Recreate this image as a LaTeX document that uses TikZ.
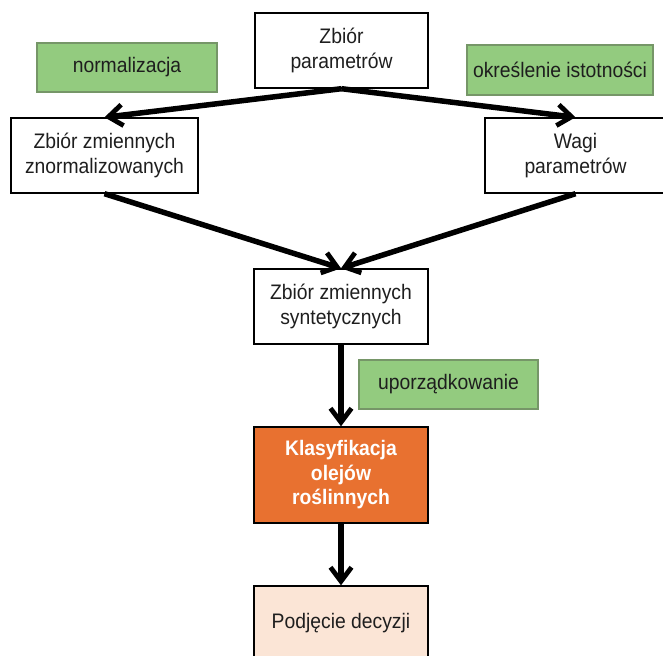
\documentclass[tikz,border=0pt]{standalone}
\usepackage{fontspec}
\setmainfont[FakeStretch=0.92]{Liberation Sans}
\usetikzlibrary{arrows.meta}
\definecolor{greenfill}{RGB}{147,203,127}
\definecolor{greenedge}{RGB}{118,150,104}
\definecolor{orangefill}{RGB}{232,113,48}
\definecolor{peach}{RGB}{251,229,214}
\definecolor{txt}{RGB}{30,30,30}
\begin{document}
\begin{tikzpicture}[x=1pt,y=-1pt,
  box/.style={draw=black,line width=1.4pt,fill=white,rectangle,align=center,
    font=\fontsize{21}{24.5}\selectfont,text=txt,inner sep=0pt},
  label/.style={draw=greenedge,line width=1.2pt,fill=greenfill,rectangle,align=center,
    font=\fontsize{21}{24.5}\selectfont,text=txt,inner sep=0pt},
  flow/.style={line width=5.5pt,-{Straight Barb[length=14pt,width=21pt,line width=4.8pt]}}]
\useasboundingbox (0,0) rectangle (663,655);
\node[box,minimum width=173pt,minimum height=75pt] (top) at (341.5,50.5) {Zbiór\\parametrów};
\node[label,minimum width=180pt,minimum height=49pt] (norm) at (127,67.5) {normalizacja};
\node[label,minimum width=186pt,minimum height=50pt] (okr) at (560,70) {określenie istotności};
\node[box,minimum width=187pt,minimum height=75pt] (left) at (104.5,155.5) {Zbiór zmiennych\\znormalizowanych};
\node[box,minimum width=181pt,minimum height=75pt] (wagi) at (575.5,155.5) {Wagi\\parametrów};
\node[box,minimum width=174pt,minimum height=75pt] (syn) at (341,306.5) {Zbiór zmiennych\\syntetycznych};
\node[label,minimum width=179pt,minimum height=49pt] (upor) at (448.5,384.5) {uporządkowanie};
\node[box,fill=orangefill,text=white,font=\fontsize{21}{24.5}\selectfont\bfseries,
  minimum width=174pt,minimum height=96pt] (klas) at (341,475) {Klasyfikacja\\olejów\\roślinnych};
\node[box,fill=peach,minimum width=174pt,minimum height=75pt] (dec) at (341,623.5) {Podjęcie decyzji};
\draw[flow] (top.south) -- (left.north);
\draw[flow] (top.south) -- (wagi.north);
\draw[flow] (left.south) -- (syn.north);
\draw[flow] (wagi.south) -- (syn.north);
\draw[flow] (syn.south) -- (klas.north);
\draw[flow] (klas.south) -- (dec.north);
\end{tikzpicture}
\end{document}
